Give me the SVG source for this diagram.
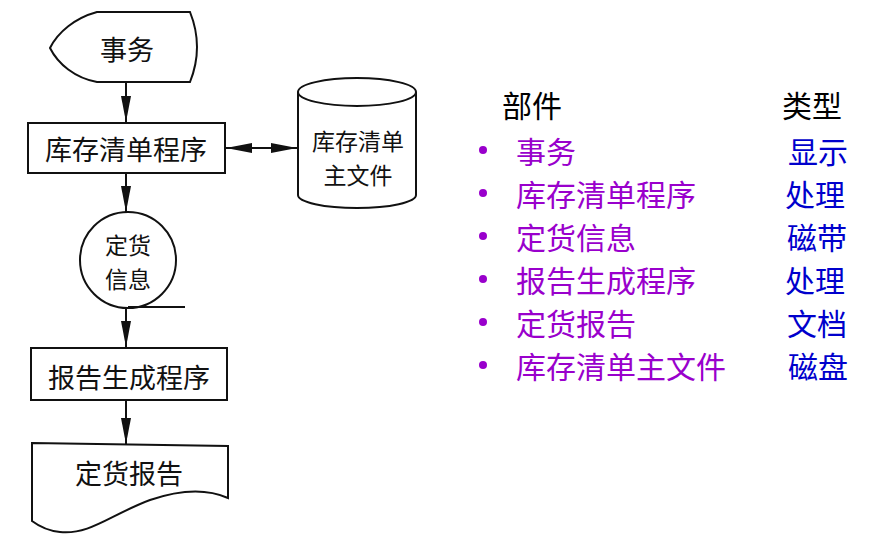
<svg xmlns="http://www.w3.org/2000/svg" width="893" height="547" viewBox="0 0 893 547">
<style>
.s{fill:#fff;stroke:#111;stroke-width:2}
.t{font-family:"Noto Sans CJK SC","Noto Sans",sans-serif;font-size:27px;fill:#111;dominant-baseline:central;text-anchor:middle}
.t2{font-family:"Noto Sans CJK SC","Noto Sans",sans-serif;font-size:23px;fill:#111;dominant-baseline:central;text-anchor:middle}
.c{stroke:#111;stroke-width:2;fill:none}
.h{font-family:"Noto Sans CJK SC","Noto Sans",sans-serif;font-size:30px;fill:#000;dominant-baseline:central}
.p{font-family:"Noto Sans CJK SC","Noto Sans",sans-serif;font-size:30px;fill:#9900CC;dominant-baseline:central}
.b{font-family:"Noto Sans CJK SC","Noto Sans",sans-serif;font-size:30px;fill:#0000CC;dominant-baseline:central}
.d{fill:#9900CC}
</style>
<defs>
<marker id="ah" markerUnits="userSpaceOnUse" markerWidth="28" markerHeight="12" refX="26" refY="5" orient="auto-start-reverse">
<path d="M0,0 L26,5 L0,10 Z" fill="#111"/>
</marker>
</defs>
<rect width="893" height="547" fill="#fff"/>
<g id="n1">
<path class="s" d="M97,12 L190,12 Q204,47 190,82 L97,82 C75,78 58,64 50,48 C58,32 75,18 97,12 Z"/>
<text class="t" x="127" y="48">事务</text>
</g>
<g id="n2">
<rect class="s" x="28" y="123" width="197" height="50"/>
<text class="t" x="126" y="148">库存清单程序</text>
</g>
<g id="n3">
<path class="s" d="M298,92 L298,195 A59,13 0 0 0 416,195 L416,92"/>
<ellipse class="s" cx="357" cy="92" rx="59" ry="14"/>
<text class="t2" x="358" y="140">库存清单</text>
<text class="t2" x="358" y="174">主文件</text>
</g>
<g id="n4">
<circle class="s" cx="128" cy="260" r="48"/>
<line class="c" x1="128" y1="307" x2="185" y2="307"/>
<text class="t2" x="128" y="244">定货</text>
<text class="t2" x="128" y="278">信息</text>
</g>
<g id="n5">
<rect class="s" x="31" y="348" width="196" height="52"/>
<text class="t" x="129" y="376">报告生成程序</text>
</g>
<g id="n6">
<path class="s" d="M32,443 L228,446 L228,498 C210,490 185,488 150,500 C110,515 90,535 60,532 C50,531 40,527 32,521 Z"/>
<text class="t" x="129" y="472">定货报告</text>
</g>
<g id="connectors">
<line class="c" x1="126" y1="82" x2="126" y2="122" marker-end="url(#ah)"/>
<line class="c" x1="126" y1="173" x2="126" y2="212" marker-end="url(#ah)"/>
<line class="c" x1="126" y1="307" x2="126" y2="347" marker-end="url(#ah)"/>
<line class="c" x1="126" y1="400" x2="126" y2="444" marker-end="url(#ah)"/>
<line class="c" x1="226" y1="148" x2="297" y2="148" marker-start="url(#ah)" marker-end="url(#ah)"/>
</g>
<g id="table">
<text class="h" x="502" y="104">部件</text>
<text class="h" x="782" y="104">类型</text>
<circle class="d" cx="483" cy="150" r="4"/>
<circle class="d" cx="483" cy="193" r="4"/>
<circle class="d" cx="483" cy="236" r="4"/>
<circle class="d" cx="483" cy="279" r="4"/>
<circle class="d" cx="483" cy="322" r="4"/>
<circle class="d" cx="483" cy="365" r="4"/>
<text class="p" x="516" y="150">事务</text>
<text class="p" x="516" y="193">库存清单程序</text>
<text class="p" x="516" y="236">定货信息</text>
<text class="p" x="516" y="279">报告生成程序</text>
<text class="p" x="516" y="322">定货报告</text>
<text class="p" x="516" y="365">库存清单主文件</text>
<text class="b" x="788" y="150">显示</text>
<text class="b" x="785" y="193">处理</text>
<text class="b" x="787" y="236">磁带</text>
<text class="b" x="785" y="279">处理</text>
<text class="b" x="787" y="322">文档</text>
<text class="b" x="788" y="365">磁盘</text>
</g>
</svg>
